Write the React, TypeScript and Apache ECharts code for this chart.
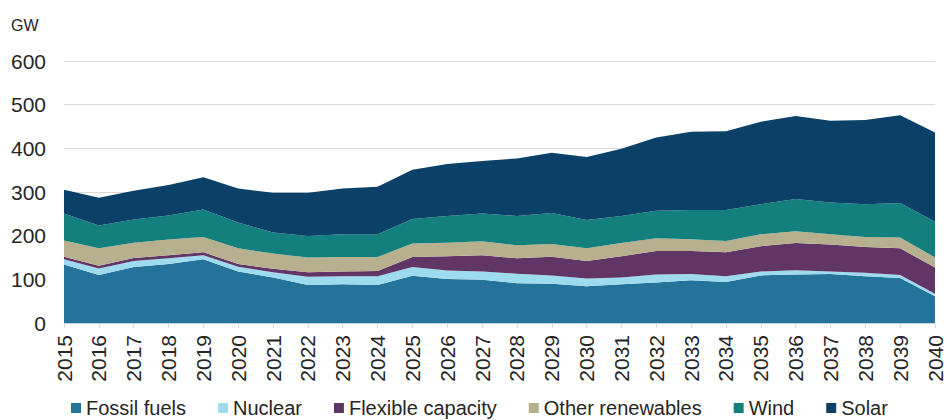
import React, { useEffect, useRef } from "react";
import * as echarts from "echarts";

const years = [
  "2015", "2016", "2017", "2018", "2019", "2020", "2021", "2022", "2023", "2024", "2025", "2026", "2027",
  "2028", "2029", "2030", "2031", "2032", "2033", "2034", "2035", "2036", "2037", "2038", "2039", "2040",
];

const fossilFuels = [134, 110, 128, 135, 146, 118, 104, 87, 89, 87, 108, 101, 99, 91, 90, 84, 89, 93, 98, 94, 109, 111, 112, 107, 103, 61];
const nuclear = [12, 15, 14, 13, 9, 11, 12, 19, 18, 20, 20, 19, 19, 22, 19, 18, 15, 18, 14, 13, 9, 10, 6, 8, 7, 6];
const flexibleCapacity = [6, 6, 7, 7, 7, 6, 8, 10, 11, 12, 23, 33, 37, 35, 43, 40, 49, 54, 53, 55, 58, 62, 62, 59, 61, 60];
const otherRenewables = [37, 40, 35, 36, 35, 36, 35, 34, 33, 32, 31, 31, 32, 30, 29, 29, 30, 29, 27, 26, 27, 27, 23, 23, 25, 23];
const wind = [62, 52, 53, 55, 63, 59, 48, 49, 52, 52, 56, 61, 64, 67, 71, 65, 62, 63, 67, 71, 69, 74, 73, 75, 79, 82];
const solar = [54, 64, 66, 70, 74, 78, 91, 99, 105, 109, 113, 119, 120, 132, 138, 144, 154, 168, 179, 180, 189, 190, 187, 193, 201, 204];

const yTicks = { min: 0, max: 600, interval: 100 };

const seriesDefs = [
  { name: "Fossil fuels", data: fossilFuels, color: "#24739a" },
  { name: "Nuclear", data: nuclear, color: "#9fdbee" },
  { name: "Flexible capacity", data: flexibleCapacity, color: "#623567" },
  { name: "Other renewables", data: otherRenewables, color: "#b6b08f" },
  { name: "Wind", data: wind, color: "#13807e" },
  { name: "Solar", data: solar, color: "#0b4168" },
];

const FONT = "'Liberation Sans', Arial, sans-serif";
const TEXT = "#262626";

export default function App() {
  const ref = useRef<HTMLDivElement>(null);
  useEffect(() => {
    if (!ref.current) return;
    const chart = echarts.init(ref.current, undefined, { renderer: "svg" });
    chart.setOption({
      animation: false,
      textStyle: { fontFamily: FONT },
      grid: { left: 64, right: 12, top: 61, bottom: 97, containLabel: false },
      graphic: [
        {
          type: "text",
          x: 11,
          y: 25,
          style: { text: "GW", fontSize: 16, fontFamily: FONT, fill: TEXT, verticalAlign: "middle" },
        },
      ],
      legend: {
        top: 398,
        left: 71,
        padding: 0,
        itemWidth: 10,
        itemHeight: 10,
        itemGap: 32,
        icon: "rect",
        textStyle: { fontSize: 20, lineHeight: 20, color: TEXT, fontFamily: FONT },
        data: seriesDefs.map((s) => s.name),
      },
      xAxis: {
        type: "category",
        data: years,
        boundaryGap: false,
        axisLine: { lineStyle: { color: "#c9d4de", width: 1 } },
        axisTick: { show: true, length: 5, lineStyle: { color: "#d9d9d9" } },
        axisLabel: { rotate: 90, fontSize: 21, color: TEXT, margin: 12, fontFamily: FONT, interval: 0 },
        splitLine: { show: false },
      },
      yAxis: {
        type: "value",
        min: yTicks.min,
        max: yTicks.max,
        interval: yTicks.interval,
        axisLine: { show: false },
        axisTick: { show: false },
        axisLabel: { fontSize: 21, color: TEXT, margin: 18, fontFamily: FONT },
        splitLine: { lineStyle: { color: "#d9d9d9", width: 1 } },
      },
      series: seriesDefs.map((s) => ({
        name: s.name,
        type: "line",
        stack: "total",
        data: s.data,
        symbol: "none",
        lineStyle: { width: 0 },
        itemStyle: { color: s.color },
        areaStyle: { color: s.color, opacity: 1 },
        emphasis: { disabled: true },
      })),
    });
    return () => chart.dispose();
  }, []);
  return <div ref={ref} style={{ position: "absolute", left: 0, top: 0, width: 947, height: 420 }} />;
}
